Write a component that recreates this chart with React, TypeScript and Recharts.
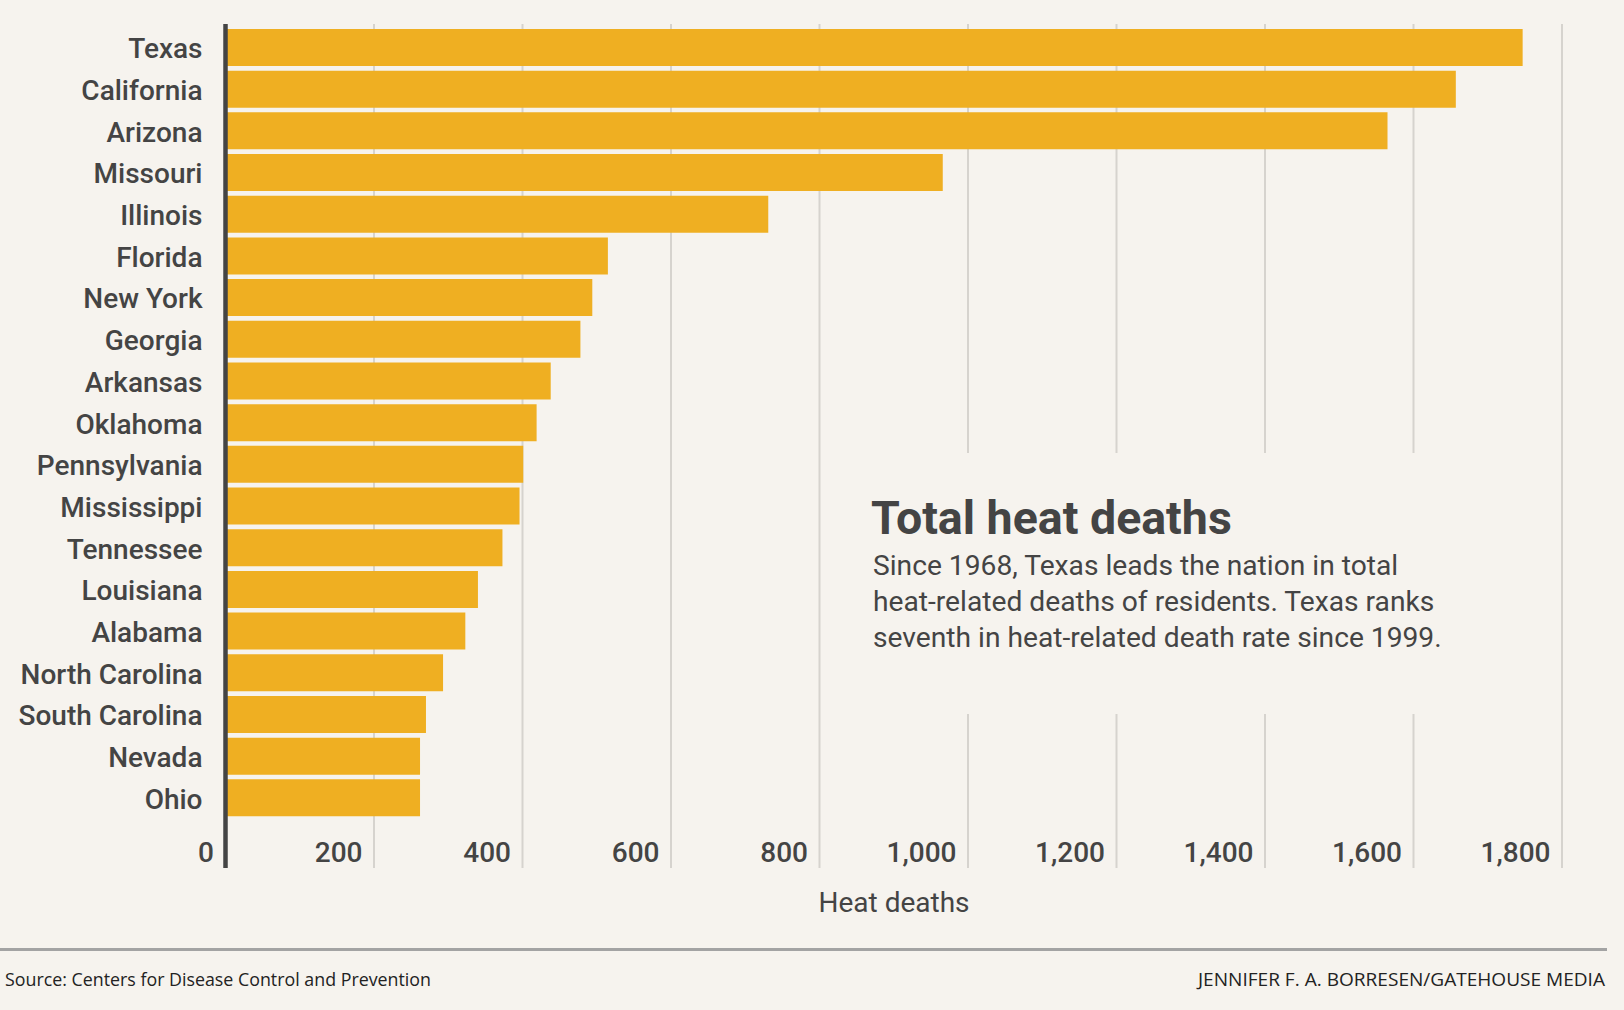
import React from 'react';
import { BarChart, Bar, XAxis, YAxis, CartesianGrid } from 'recharts';

const states = [
  'Texas', 'California', 'Arizona', 'Missouri', 'Illinois', 'Florida', 'New York', 'Georgia',
  'Arkansas', 'Oklahoma', 'Pennsylvania', 'Mississippi', 'Tennessee', 'Louisiana', 'Alabama',
  'North Carolina', 'South Carolina', 'Nevada', 'Ohio',
];
const deaths = [1747, 1657, 1565, 966, 731, 515, 494, 478, 438, 419, 401, 396, 373, 340, 323, 293, 270, 262, 262];
const xTicks = [0, 200, 400, 600, 800, 1000, 1200, 1400, 1600, 1800];

const title = 'Total heat deaths';
const subtitleLines = [
  'Since 1968, Texas leads the nation in total',
  'heat-related deaths of residents. Texas ranks',
  'seventh in heat-related death rate since 1999.',
];
const axisTitle = 'Heat deaths';
const sourceText = 'Source: Centers for Disease Control and Prevention';
const creditText = 'JENNIFER F. A. BORRESEN/GATEHOUSE MEDIA';

const data = states.map((s, i) => ({ state: s, deaths: deaths[i] }));

const BG = '#f6f3ee';
const TEXT = '#444444';
const BAR = '#efaf22';
const GRID = '#d6d3ce';

const fmt = (v: number) => v.toLocaleString('en-US');

const YTick = (props: any) => {
  const { x, y, payload } = props;
  return (
    <text x={x - 23} y={y + 10.5} textAnchor="end" fontFamily="Roboto" fontWeight={500} fontSize={28} fill={TEXT}>
      {payload.value}
    </text>
  );
};

const XTick = (props: any) => {
  const { x, y, payload } = props;
  return (
    <text x={x - 11.5} y={y - 6.5} textAnchor="end" fontFamily="Roboto" fontWeight={500} fontSize={28} fill={TEXT}>
      {fmt(payload.value)}
    </text>
  );
};

export default function App() {
  return (
    <div style={{ position: 'absolute', left: 0, top: 0, width: 1624, height: 1010, background: BG, overflow: 'hidden' }}>
      <BarChart
        width={1624}
        height={1010}
        data={data}
        layout="vertical"
        margin={{ top: 24, right: 62, bottom: 0, left: 0 }}
      >
        <CartesianGrid horizontal={false} vertical={true} stroke={GRID} strokeWidth={2} />
        <XAxis
          type="number"
          dataKey="deaths"
          domain={[0, 1800]}
          ticks={xTicks}
          interval={0}
          height={142}
          axisLine={false}
          tickLine={false}
          tickSize={0}
          tickMargin={0}
          tick={<XTick />}
        />
        <YAxis
          type="category"
          dataKey="state"
          width={225.5}
          padding={{ top: 3, bottom: 49 }}
          axisLine={{ stroke: TEXT, strokeWidth: 4.5 }}
          tickLine={false}
          tickSize={0}
          tickMargin={0}
          interval={0}
          tick={<YTick />}
        />
        <Bar dataKey="deaths" fill={BAR} barSize={37} isAnimationActive={false} />
      </BarChart>
      <svg
        width={1624}
        height={1010}
        style={{ position: 'absolute', left: 0, top: 0, pointerEvents: 'none' }}
      >
        <rect x={830} y={453} width={720} height={261} fill={BG} />
        <text x={871} y={534} fontFamily="Roboto" fontWeight={700} fontSize={46.5} fill={TEXT}>
          {title}
        </text>
        {subtitleLines.map((line, i) => (
          <text key={i} x={873} y={575 + i * 36} fontFamily="Roboto" fontWeight={400} fontSize={28.2} fill={TEXT}>
            {line}
          </text>
        ))}
        <text x={894} y={911.5} textAnchor="middle" fontFamily="Roboto" fontWeight={400} fontSize={28} fill={TEXT}>
          {axisTitle}
        </text>
        <line x1={0} x2={1607} y1={949.5} y2={949.5} stroke="#a3a3a3" strokeWidth={3} />
        <text x={5} y={986} fontFamily="'Open Sans'" fontSize={18} fill="#222" textLength={426} lengthAdjust="spacingAndGlyphs">
          {sourceText}
        </text>
        <text x={1198} y={986} fontFamily="'Open Sans'" fontSize={18} fill="#222" textLength={407} lengthAdjust="spacingAndGlyphs">
          {creditText}
        </text>
      </svg>
    </div>
  );
}
